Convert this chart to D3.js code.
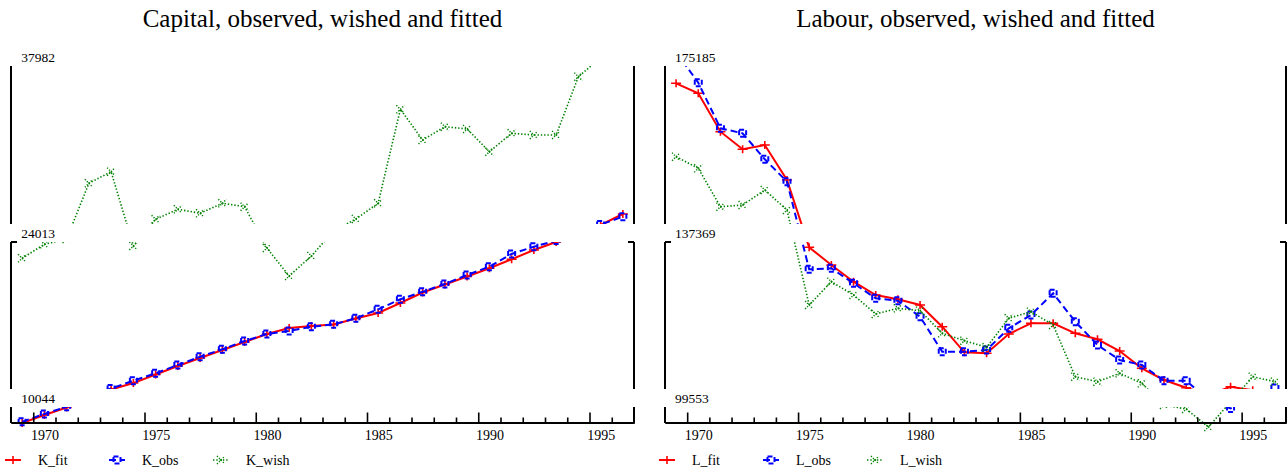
<!DOCTYPE html>
<html>
<head>
<meta charset="utf-8">
<script src="https://cdn.jsdelivr.net/npm/d3@7"></script>
<style>
  body { margin: 0; background: #fff; }
  svg text { font-family: "Liberation Serif", "Times New Roman", serif; fill: #000; }
</style>
</head>
<body>
<div class="chart"></div>
<script>
// yearly data
const years = [1969,1970,1971,1972,1973,1974,1975,1976,1977,1978,1979,1980,1981,1982,
               1983,1984,1985,1986,1987,1988,1989,1990,1991,1992,1993,1994,1995,1996];

const K_fit  = [9970,10593,11182,11928,12595,13100,13772,14439,15067,15695,16322,16950,17421,17578,
                17700,18166,18598,19383,20207,20835,21463,22107,22813,23543,24170,24837,25504,26368];
const K_obs  = [10070,10672,11245,12006,12673,13285,13866,14517,15169,15749,16400,16950,17186,17523,
                17711,18182,18889,19674,20270,20874,21581,22232,23229,23802,24280,24877,25536,26156];
const K_wish = [22891,23990,24406,28777,29688,23857,25952,26737,26423,27208,26941,23699,21502,23072,
                25034,25976,27208,34585,32175,33219,33039,31257,32701,32568,32568,37143,38626,39199];

const L_fit  = [171510,169386,161227,157488,158402,150966,136669,132908,129360,126534,125621,124410,119800,114360,
                114148,118249,120522,120522,118398,117123,114637,110962,108476,106840,105289,107052,106300,105289];
const L_obs  = [178160,171638,161950,160888,155364,150605,131994,132206,129020,125833,125323,121924,114488,114488,
                114850,119460,122285,126895,120860,115912,112725,111663,108327,108327,104227,102442,104652,106776];
const L_wish = [155917,153452,145294,145655,148842,144593,124410,129360,126534,122498,123708,123199,118398,116826,
                115423,121584,122986,120160,109177,108115,109900,107775,103165,102315,98491,103802,109177,108115];

const K_ticks = [10044, 24013, 37982];
const L_ticks = [99553, 137369, 175185];
const yearLabels = [1970, 1975, 1980, 1985, 1990, 1995];

const w = 1287;
const h = 472;

const svg = d3.select(".chart")
              .append("svg")
              .attr("width", w)
              .attr("height", h)
              .style("background-color", "white");

// how the three series look
const styles = [
  { name: "fit",  color: "#ff0000", dash: null,      width: 2,   marker: "plus" },
  { name: "obs",  color: "#0000ff", dash: "7,4",     width: 2,   marker: "box" },
  { name: "wish", color: "#008000", dash: "1.4,1.9", width: 1.6, marker: "cross" }
];

const drawMarker = function(g, kind, color){
  if (kind === "plus") {
    g.append("path").attr("d", "M-5,0H5M0,-4V4")
     .attr("stroke", color).attr("stroke-width", 1.6).attr("fill", "none");
  } else if (kind === "box") {
    g.append("rect").attr("x", -3.5).attr("y", -3.5).attr("width", 7).attr("height", 7)
     .attr("stroke", color).attr("stroke-width", 2).attr("fill", "none")
     .attr("stroke-dasharray", "5,2.5");
  } else {
    g.append("path").attr("d", "M-4,-4L4,4M-4,4L4,-4")
     .attr("stroke", color).attr("stroke-width", 1.5).attr("fill", "none")
     .attr("stroke-dasharray", "1.2,1.6");
  }
};

const drawPanel = function(id, left, right, title, prefix, series, ticks){
  const top = 66, bottom = 422;
  const x = d3.scaleLinear().domain([years[0] - 0.5, years[years.length - 1] + 0.5]).range([left, right]);
  const y = d3.scaleLinear().domain([ticks[0], ticks[2]]).range([bottom, top]);

  const g = svg.append("g");

  g.append("text")
   .attr("x", (left + right) / 2).attr("y", 27)
   .attr("text-anchor", "middle").style("font-size", "25px")
   .text(title);

  // axes first, so the label bands cut them like in the original
  g.append("line").attr("x1", left).attr("x2", left).attr("y1", top).attr("y2", bottom + 1)
   .attr("stroke", "#000").attr("stroke-width", 2);
  g.append("line").attr("x1", right).attr("x2", right).attr("y1", top).attr("y2", bottom + 1)
   .attr("stroke", "#000").attr("stroke-width", 2);

  const clipId = "clip" + id;
  svg.append("clipPath").attr("id", clipId)
     .append("rect").attr("x", left - 10).attr("y", top - 17).attr("width", right - left + 20).attr("height", 400);

  const plot = g.append("g").attr("clip-path", "url(#" + clipId + ")");

  series.forEach(function(vals, k){
    const st = styles[k];
    const line = d3.line().x((d, i) => x(years[i])).y(d => y(d));
    plot.append("path")
        .datum(vals)
        .attr("d", line)
        .attr("fill", "none")
        .attr("stroke", st.color)
        .attr("stroke-width", st.width)
        .attr("stroke-dasharray", st.dash);
    vals.forEach(function(d, i){
      const m = plot.append("g").attr("transform", "translate(" + x(years[i]) + "," + y(d) + ")");
      drawMarker(m, st.marker, st.color);
    });
  });

  // white label bands over the plot
  const lift = [15, 2, 0];
  ticks.forEach(function(v, i){
    const yb = y(v) - lift[i];
    g.append("rect")
     .attr("x", left - 3).attr("y", yb - 18)
     .attr("width", right - left + 6).attr("height", 18)
     .attr("fill", "#fff");
    g.append("text")
     .attr("x", x(years[0]) - 1).attr("y", yb - 4.5)
     .style("font-size", "13.5px")
     .text(v);
    if (i === 1) {
      g.append("path").attr("d", "M" + (left + 6) + "," + yb + "H" + left)
       .attr("stroke", "#000").attr("stroke-width", 2).attr("fill", "none");
      g.append("path").attr("d", "M" + (right - 6) + "," + yb + "H" + right)
       .attr("stroke", "#000").attr("stroke-width", 2).attr("fill", "none");
    }
  });

  // x axis: ticks sit between years, labels on the years
  const bounds = years.slice(0, -1).map(d => d + 0.5);
  const minor = bounds.filter(d => (d - 0.5) % 5 !== 4);
  const major = bounds.filter(d => (d - 0.5) % 5 === 4);

  const axMinor = g.append("g").attr("transform", "translate(0," + (bottom + 0.5) + ")")
    .call(d3.axisBottom(x).tickValues(minor).tickSize(-5).tickSizeOuter(0).tickFormat(""));
  const axMajor = g.append("g").attr("transform", "translate(0," + (bottom + 0.5) + ")")
    .call(d3.axisBottom(x).tickValues(major).tickSize(-10).tickSizeOuter(0).tickFormat(""));
  const axLab = g.append("g").attr("transform", "translate(0," + (bottom + 0.5) + ")")
    .call(d3.axisBottom(x).tickValues(yearLabels).tickSize(0).tickPadding(8).tickFormat(d3.format("d")));

  [axMinor, axMajor].forEach(function(a){
    a.selectAll("line").attr("stroke", "#000").attr("stroke-width", 1.6);
    a.select(".domain").attr("stroke", "#000").attr("stroke-width", 2);
  });
  axLab.select(".domain").remove();
  axLab.selectAll("text").style("font-size", "14px")
       .attr("font-family", null).attr("fill", "#000");

  // legend
  const names = ["_fit", "_obs", "_wish"];
  styles.forEach(function(st, k){
    const lx = left - 6 + k * 104;
    const ly = 460;
    const lg = g.append("g");
    lg.append("line").attr("x1", lx).attr("x2", lx + 16).attr("y1", ly).attr("y2", ly)
      .attr("stroke", st.color).attr("stroke-width", st.width).attr("stroke-dasharray", st.dash);
    drawMarker(lg.append("g").attr("transform", "translate(" + (lx + 8) + "," + ly + ")"), st.marker, st.color);
    lg.append("text").attr("x", lx + 33).attr("y", ly + 4.5)
      .style("font-size", "14px")
      .text(prefix + names[k]);
  });
};

drawPanel("K", 11, 634, "Capital, observed, wished and fitted", "K", [K_fit, K_obs, K_wish], K_ticks);
drawPanel("L", 665, 1286, "Labour, observed, wished and fitted", "L", [L_fit, L_obs, L_wish], L_ticks);
</script>
</body>
</html>
